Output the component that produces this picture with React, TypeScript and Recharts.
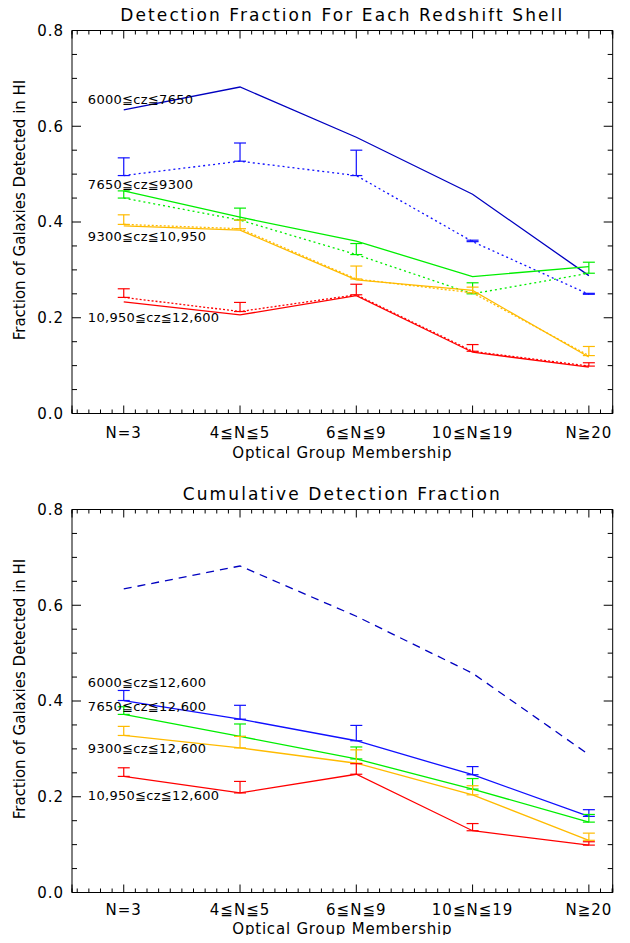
import React from "react";
import { LineChart, Line, XAxis, YAxis, ErrorBar, ReferenceDot } from "recharts";

const groups = ["N=3", "4≦N≦5", "6≦N≦9", "10≦N≦19", "N≧20"];
const groupPos = [1, 2, 3, 4, 5];
const yTicks = [0, 0.2, 0.4, 0.6, 0.8];

// top panel, each redshift shell on its own
const blueLine = [0.634, 0.682, 0.577, 0.458, 0.288];
const blueDots = [0.497, 0.527, 0.497, 0.359, 0.249];
const blueDotsErr = [0.037, 0.038, 0.053, 0.003, 0.002];
const greenLine = [0.465, 0.41, 0.36, 0.286, 0.307];
const greenDots = [0.45, 0.404, 0.332, 0.25, 0.293];
const greenDotsErr = [0.015, 0.025, 0.023, 0.023, 0.023];
const yellowLine = [0.392, 0.383, 0.279, 0.257, 0.118];
const yellowDots = [0.395, 0.386, 0.281, 0.252, 0.121];
const yellowDotsErr = [0.02, 0.018, 0.027, 0.012, 0.019];
const redLine = [0.233, 0.206, 0.246, 0.128, 0.097];
const redDots = [0.2425, 0.213, 0.248, 0.13, 0.099];
const redDotsErr = [0.018, 0.019, 0.022, 0.014, 0.007];

// bottom panel, cumulative
const blueCum = [0.401, 0.362, 0.317, 0.246, 0.159];
const blueCumErr = [0.021, 0.029, 0.032, 0.017, 0.014];
const greenCum = [0.372, 0.326, 0.279, 0.216, 0.147];
const greenCumErr = [0.016, 0.026, 0.025, 0.022, 0.016];
const yellowCum = [0.328, 0.302, 0.27, 0.204, 0.109];
const yellowCumErr = [0.019, 0.024, 0.028, 0.019, 0.015];
const redCum = [0.2425, 0.208, 0.247, 0.129, 0.099];
const redCumErr = [0.018, 0.024, 0.022, 0.015, 0.007];

const topNotes = ["6000≦cz≦7650", "7650≦cz≦9300", "9300≦cz≦10,950", "10,950≦cz≦12,600"];
const topNoteY = [0.657, 0.479, 0.369, 0.201];
const bottomNotes = ["6000≦cz≦12,600", "7650≦cz≦12,600", "9300≦cz≦12,600", "10,950≦cz≦12,600"];
const bottomNoteY = [0.438, 0.389, 0.3, 0.202];
const NOTE_X = 0.687;

const BLUE = "#0000c0";
const BLUE2 = "#1010ff";
const GREEN = "#00ee00";
const YELLOW = "#ffbb00";
const RED = "#ff0000";
const FONT = '"DejaVu Sans", sans-serif';
const X0 = 0.555;
const X1 = 5.205;
const DOMAIN_X: [number, number] = [X0, X1];
const DOMAIN_Y: [number, number] = [0, 0.8];

// frame tick positions; the domain ends are included so every frame axis spans the same range
const xMajor = [X0, ...groupPos, X1];
const xMinor: number[] = [X0];
for (let k = 6; k <= 52; k++) if (k % 10 !== 0) xMinor.push(k / 10);
xMinor.push(X1);
const yMinor: number[] = [0];
for (let k = 1; k < 16; k++) if (k % 4 !== 0) yMinor.push(k * 0.05);
yMinor.push(0.8);

const topRows = groupPos.map((x, i) => ({
  x,
  blueLine: blueLine[i],
  blueDots: blueDots[i],
  blueErr: [0, blueDotsErr[i]],
  greenLine: greenLine[i],
  greenDots: greenDots[i],
  greenErr: [0, greenDotsErr[i]],
  yellowLine: yellowLine[i],
  yellowDots: yellowDots[i],
  yellowErr: [0, yellowDotsErr[i]],
  redLine: redLine[i],
  redDots: redDots[i],
  redErr: [0, redDotsErr[i]],
}));

const bottomRows = groupPos.map((x, i) => ({
  x,
  blueDash: blueLine[i],
  blue: blueCum[i],
  blueErr: [0, blueCumErr[i]],
  green: greenCum[i],
  greenErr: [0, greenCumErr[i]],
  yellow: yellowCum[i],
  yellowErr: [0, yellowCumErr[i]],
  red: redCum[i],
  redErr: [0, redCumErr[i]],
}));

type Series = { key: string; color: string; dash?: string; err?: string };

const topSeries: Series[] = [
  { key: "blueDots", color: BLUE2, dash: "2 3", err: "blueErr" },
  { key: "blueLine", color: BLUE },
  { key: "greenDots", color: GREEN, dash: "2 3", err: "greenErr" },
  { key: "greenLine", color: GREEN },
  { key: "yellowDots", color: YELLOW, dash: "2 2", err: "yellowErr" },
  { key: "yellowLine", color: YELLOW },
  { key: "redDots", color: RED, dash: "2 2", err: "redErr" },
  { key: "redLine", color: RED },
];

const bottomSeries: Series[] = [
  { key: "blueDash", color: BLUE, dash: "8 6" },
  { key: "blue", color: BLUE2, err: "blueErr" },
  { key: "green", color: GREEN, err: "greenErr" },
  { key: "yellow", color: YELLOW, err: "yellowErr" },
  { key: "red", color: RED, err: "redErr" },
];

const YTitle = () => (
  <text
    x={20}
    y={210}
    transform="rotate(-90 20 210)"
    textAnchor="middle"
    dominantBaseline="central"
    fontSize={15}
    fontFamily={FONT}
    fill="#000"
  >
    Fraction of Galaxies Detected in HI
  </text>
);

// IDL style frame: inward ticks on all four sides, no labels
const THIN = 0.01;
const blank = () => "";
function frame(title: string) {
  const common = {
    type: "number" as const,
    allowDataOverflow: true,
    interval: 0 as const,
    tick: { fontSize: 1, fill: "none" },
    tickFormatter: blank,
    tickMargin: 0,
  };
  const line = { stroke: "#000" };
  const xs = { ...common, dataKey: "x", domain: DOMAIN_X, mirror: true, height: THIN };
  const ys = { ...common, domain: DOMAIN_Y, mirror: true, width: THIN };
  return [
    <XAxis key="b1" xAxisId="b1" {...xs} ticks={xMajor} axisLine={false} tickSize={8} tickLine={line} />,
    <XAxis key="b2" xAxisId="b2" {...xs} ticks={xMinor} axisLine={false} tickSize={4} tickLine={line} />,
    <XAxis
      key="t1"
      xAxisId="t1"
      {...xs}
      orientation="top"
      ticks={xMajor}
      axisLine={line}
      tickSize={8}
      tickLine={line}
      label={{
        value: title,
        position: "top",
        offset: 10,
        fill: "#000",
        fontSize: 17,
        fontFamily: FONT,
        style: { letterSpacing: 2.1 },
      }}
    />,
    <XAxis key="t2" xAxisId="t2" {...xs} orientation="top" ticks={xMinor} axisLine={false} tickSize={4} tickLine={line} />,
    <YAxis key="l1" yAxisId="l1" {...ys} ticks={yTicks} axisLine={false} tickSize={9} tickLine={line} />,
    <YAxis key="l2" yAxisId="l2" {...ys} ticks={yMinor} axisLine={false} tickSize={5} tickLine={line} />,
    <YAxis key="r1" yAxisId="r1" {...ys} orientation="right" ticks={yTicks} axisLine={line} tickSize={9} tickLine={line} />,
    <YAxis key="r2" yAxisId="r2" {...ys} orientation="right" ticks={yMinor} axisLine={false} tickSize={5} tickLine={line} />,
  ];
}

function Panel({
  title,
  rows,
  series,
  notes,
  noteY,
  height,
  xLabelOffset,
  tickGap,
}: {
  title: string;
  rows: any[];
  series: Series[];
  notes: string[];
  noteY: number[];
  height: number;
  xLabelOffset: number;
  tickGap: number;
}) {
  const xAxisH = 50;
  return (
    <LineChart
      width={630}
      height={height}
      data={rows}
      margin={{ top: 30.5, right: 17.3, left: 12, bottom: height - 30.5 - 383 - xAxisH }}
    >
      <XAxis
        xAxisId="m"
        dataKey="x"
        type="number"
        domain={DOMAIN_X}
        allowDataOverflow
        ticks={groupPos}
        interval={0}
        tickFormatter={(v) => groups[v - 1]}
        tickLine={false}
        tickSize={6}
        tickMargin={tickGap}
        height={xAxisH}
        axisLine={{ stroke: "#000" }}
        tick={{ fill: "#000", fontSize: 15, fontFamily: FONT, style: { letterSpacing: 1 } }}
        label={{
          value: "Optical Group Membership",
          position: "insideBottom",
          offset: xLabelOffset,
          fill: "#000",
          fontSize: 15,
          fontFamily: FONT,
          style: { letterSpacing: 0.8 },
        }}
      />
      <YAxis
        yAxisId="m"
        type="number"
        domain={DOMAIN_Y}
        allowDataOverflow
        ticks={yTicks}
        interval={0}
        tickFormatter={(v) => v.toFixed(1)}
        tickLine={false}
        tickSize={4}
        tickMargin={4}
        width={60}
        axisLine={{ stroke: "#000" }}
        tick={{ fill: "#000", fontSize: 15, fontFamily: FONT, style: { letterSpacing: 1 } }}
        label={YTitle}
      />
      {frame(title)}
      {series.map((s) => (
        <Line
          key={s.key}
          xAxisId="m"
          yAxisId="m"
          type="linear"
          dataKey={s.key}
          stroke={s.color}
          strokeWidth={1.3}
          strokeDasharray={s.dash}
          dot={false}
          activeDot={false}
          isAnimationActive={false}
        >
          {s.err && (
            <ErrorBar
              dataKey={s.err}
              direction="y"
              width={6}
              stroke={s.color}
              strokeWidth={1.2}
              isAnimationActive={false}
            />
          )}
        </Line>
      ))}
      {notes.map((n, i) => (
        <ReferenceDot
          key={n}
          xAxisId="m"
          yAxisId="m"
          x={NOTE_X}
          y={noteY[i]}
          r={0.5}
          fill="none"
          stroke="none"
          label={{
            value: n,
            position: "right",
            offset: 0,
            fill: "#000",
            fontSize: 13,
            fontFamily: FONT,
            style: { letterSpacing: 0.3 },
          }}
        />
      ))}
    </LineChart>
  );
}

export default function App() {
  return (
    <div style={{ position: "relative", width: 630, height: 943, margin: -8, background: "#fff", overflow: "hidden" }}>
      <div style={{ position: "absolute", top: 0, left: 0 }}>
        <Panel
          title="Detection Fraction For Each Redshift Shell"
          rows={topRows}
          series={topSeries}
          notes={topNotes}
          noteY={topNoteY}
          height={479}
          xLabelOffset={6}
          tickGap={8}
        />
      </div>
      <div style={{ position: "absolute", top: 479, left: 0 }}>
        <Panel
          title="Cumulative Detection Fraction"
          rows={bottomRows}
          series={bottomSeries}
          notes={bottomNotes}
          noteY={bottomNoteY}
          height={464}
          xLabelOffset={9}
          tickGap={6}
        />
      </div>
    </div>
  );
}
